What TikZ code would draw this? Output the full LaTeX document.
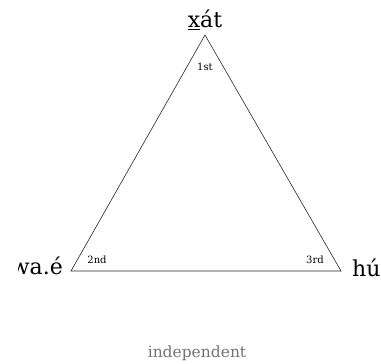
\documentclass[tikz,border=0pt]{standalone}
\usepackage{fontspec}
\setmainfont{DejaVu Serif}
\begin{document}
\begin{tikzpicture}[x=1pt,y=1pt,
  big/.style={font=\fontsize{22}{25}\selectfont, inner sep=0pt},
  small/.style={font=\fontsize{10}{12}\selectfont, inner sep=0pt},
  tri/.style={draw=black!85, line width=0.6pt, line join=miter}]
\useasboundingbox (0,0) rectangle (381,364);
\coordinate (A) at (205,329);
\coordinate (B) at (71,93);
\coordinate (C) at (341,93);
\draw[tri] (A) -- (B) -- (C) -- cycle;
\node[big, anchor=base] (xat) at (205,336) {\underline{x}át};
\begin{scope}
\clip (18,0) rectangle (381,364);
\node[big, anchor=base east] (wae) at (63,89) {wa.é};
\end{scope}
\node[big, anchor=base west] (hu) at (352,87) {hú};
\node[small] (first) at (205,297) {1st};
\node[small] (second) at (97,104) {2nd};
\node[small] (third) at (315,104) {3rd};
\node[font=\fontsize{15.5}{18}\selectfont, text=black!55, inner sep=0pt] (ind) at (197,11) {independent};
\end{tikzpicture}
\end{document}
